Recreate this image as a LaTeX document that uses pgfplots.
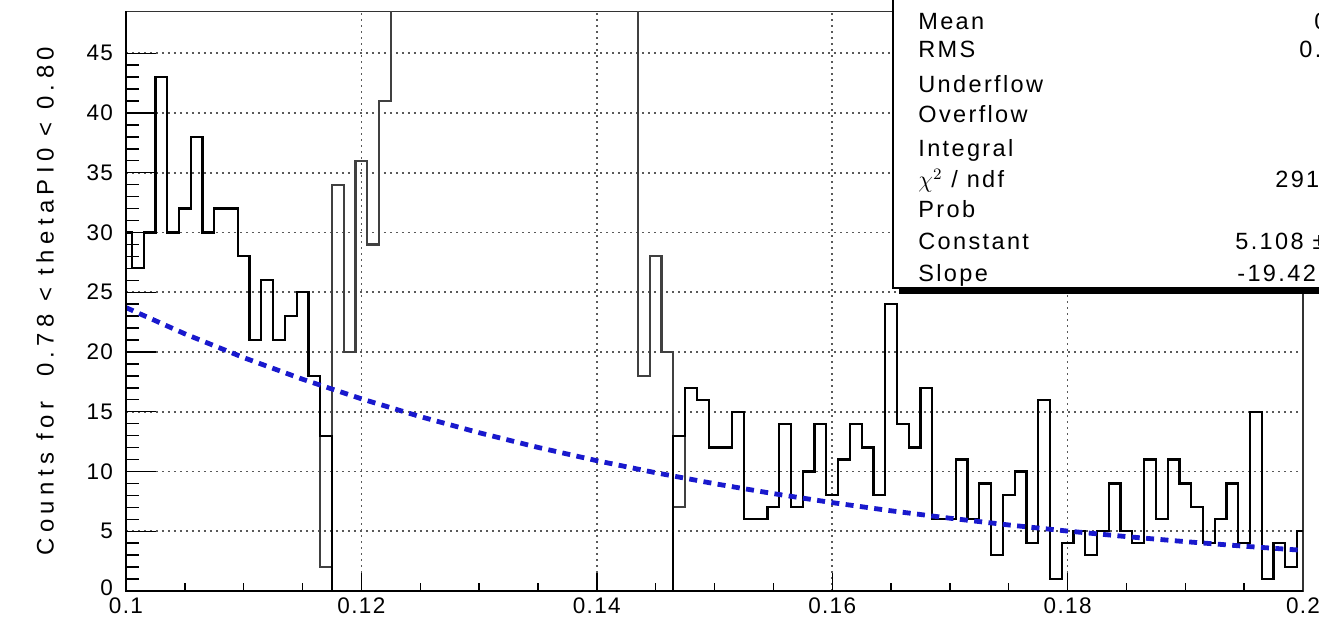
\documentclass[border=0pt]{standalone}
\usepackage{fontspec}
\setmainfont{Liberation Sans}
\newfontfamily\labfont[LetterSpace=23]{Liberation Sans}
\newfontfamily\statfont[LetterSpace=10]{Liberation Sans}
\newfontfamily\tickfont[LetterSpace=6]{Liberation Sans}
\usepackage{pgfplots}
\pgfplotsset{compat=1.18}
\definecolor{fitblue}{RGB}{25,25,205}

\begin{document}
\begin{tikzpicture}
\useasboundingbox (-63bp,-15.5bp) rectangle (596.5bp,295.5bp);
\clip (-63bp,-15.5bp) rectangle (596.5bp,295.5bp);
\begin{axis}[
  name=ax, at={(0,0)}, anchor=south west,
  scale only axis, width=588.5bp, height=289.8bp,
  xmin=0.1, xmax=0.2, ymin=0, ymax=48.5,
  xtick={0.1,0.12,0.14,0.16,0.18,0.2},
  xticklabels={0.1,0.12,0.14,0.16,0.18,0.2},
  ytick={0,5,10,15,20,25,30,35,40,45},
  yticklabels={\raisebox{3bp}{0},5,10,15,20,25,30,35,40,45},
  minor x tick num=3, minor y tick num=4,
  xtick pos=bottom, ytick pos=left, tick align=inside,
  xtick style={black, line width=0.7bp, /pgfplots/major tick length=9bp, /pgfplots/minor tick length=4bp},
  ytick style={black, line width=0.7bp, /pgfplots/major tick length=15bp, /pgfplots/minor tick length=6.5bp},
  /pgf/number format/assume math mode=true,
  tick label style={font=\tickfont\fontsize{11.3}{13}\selectfont},
  yticklabel style={xshift=-3bp},
  grid=major,
  major grid style={black!65, line width=0.8bp, dash pattern=on 0.9bp off 2.1bp},
  axis line style={black!80, line width=0.7bp},
  ylabel={Counts for~~0.78 < thetaPI0 < 0.80},
  ylabel style={at={(axis description cs:-0.0688,0.5)}, anchor=center, font=\labfont\fontsize{12}{14}\selectfont},
]
% full histogram
\addplot[const plot mark mid, black!75, line width=1.1bp] coordinates {
(0.100,30)(0.101,27)(0.102,30)(0.103,43)(0.104,30)(0.105,32)(0.106,38)(0.107,30)(0.108,32)(0.109,32)
(0.110,28)(0.111,21)(0.112,26)(0.113,21)(0.114,23)(0.115,25)(0.116,18)(0.117,2)(0.118,34)(0.119,20)
(0.120,36)(0.121,29)(0.122,41)(0.123,52)(0.124,63)(0.125,75)(0.126,88)(0.127,100)(0.128,112)(0.129,122)
(0.130,130)(0.131,136)(0.132,140)(0.133,141)(0.134,138)(0.135,132)(0.136,122)(0.137,110)(0.138,97)(0.139,85)
(0.140,74)(0.141,65)(0.142,58)(0.143,52)(0.144,18)(0.145,28)(0.146,20)(0.147,7)(0.148,17)(0.149,16)
(0.150,12)(0.151,12)(0.152,15)(0.153,6)(0.154,6)(0.155,7)(0.156,14)(0.157,7)(0.158,10)(0.159,14)
(0.160,8)(0.161,11)(0.162,14)(0.163,12)(0.164,8)(0.165,24)(0.166,14)(0.167,12)(0.168,17)(0.169,6)
(0.170,6)(0.171,11)(0.172,6)(0.173,9)(0.174,3)(0.175,8)(0.176,10)(0.177,4)(0.178,16)(0.179,1)
(0.180,4)(0.181,5)(0.182,3)(0.183,5)(0.184,9)(0.185,5)(0.186,4)(0.187,11)(0.188,6)(0.189,11)
(0.190,9)(0.191,7)(0.192,4)(0.193,6)(0.194,9)(0.195,4)(0.196,15)(0.197,1)(0.198,4)(0.199,2)
(0.200,5)};
% sideband histogram
\addplot[const plot mark mid, black, line width=1.1bp] coordinates {
(0.100,30)(0.101,27)(0.102,30)(0.103,43)(0.104,30)(0.105,32)(0.106,38)(0.107,30)(0.108,32)(0.109,32)
(0.110,28)(0.111,21)(0.112,26)(0.113,21)(0.114,23)(0.115,25)(0.116,18)(0.117,13)(0.118,0)(0.119,0)
(0.120,0)(0.121,0)(0.122,0)(0.123,0)(0.124,0)(0.125,0)(0.126,0)(0.127,0)(0.128,0)(0.129,0)
(0.130,0)(0.131,0)(0.132,0)(0.133,0)(0.134,0)(0.135,0)(0.136,0)(0.137,0)(0.138,0)(0.139,0)
(0.140,0)(0.141,0)(0.142,0)(0.143,0)(0.144,0)(0.145,0)(0.146,0)(0.147,13)(0.148,17)(0.149,16)
(0.150,12)(0.151,12)(0.152,15)(0.153,6)(0.154,6)(0.155,7)(0.156,14)(0.157,7)(0.158,10)(0.159,14)
(0.160,8)(0.161,11)(0.162,14)(0.163,12)(0.164,8)(0.165,24)(0.166,14)(0.167,12)(0.168,17)(0.169,6)
(0.170,6)(0.171,11)(0.172,6)(0.173,9)(0.174,3)(0.175,8)(0.176,10)(0.177,4)(0.178,16)(0.179,1)
(0.180,4)(0.181,5)(0.182,3)(0.183,5)(0.184,9)(0.185,5)(0.186,4)(0.187,11)(0.188,6)(0.189,11)
(0.190,9)(0.191,7)(0.192,4)(0.193,6)(0.194,9)(0.195,4)(0.196,15)(0.197,1)(0.198,4)(0.199,2)
(0.200,5)};
% exponential fit
\addplot[fitblue, line width=2.4bp, dash pattern=on 4bp off 3.2bp] coordinates {
(0.100,23.713)(0.105,21.519)(0.110,19.528)(0.115,17.721)(0.120,16.081)(0.125,14.593)
(0.130,13.243)(0.135,12.017)(0.140,10.905)(0.145,9.896)(0.150,8.980)(0.155,8.149)
(0.160,7.395)(0.165,6.711)(0.170,6.090)(0.175,5.526)(0.180,5.015)(0.185,4.551)
(0.190,4.130)(0.195,3.748)(0.200,3.401)};
\end{axis}
% heavier left and bottom axis lines
\draw[black, line width=1.3bp] (ax.north west) -- (ax.south west) -- (ax.south east);
% statistics box with shadow
\fill[black] (386.5bp,148.5bp) rectangle (720bp,420bp);
\filldraw[fill=white, draw=black, line width=0.8bp] (383.5bp,151.5bp) rectangle (700bp,420bp);
\begin{scope}[every node/.style={anchor=base west, inner sep=0pt, font=\statfont\fontsize{11.8}{14}\selectfont}]
\node at (396bp,280.5bp) {Mean};
\node at (396bp,266.5bp) {RMS};
\node at (396bp,249bp) {Underflow};
\node at (396bp,234bp) {Overflow};
\node at (396bp,217bp) {Integral};
\node at (396bp,201.5bp) {$\chi^{2}$ / ndf};
\node at (396bp,186.5bp) {Prob};
\node at (396bp,170.5bp) {Constant};
\node at (396bp,154.5bp) {Slope};
\node at (594bp,280.5bp) {0};
\node at (586.5bp,266.5bp) {0.};
\node at (574.5bp,201.5bp) {291};
\node at (554.5bp,170.5bp) {5.108 ±};
\node at (555.5bp,154.5bp) {-19.42};
\end{scope}
\end{tikzpicture}
\end{document}
